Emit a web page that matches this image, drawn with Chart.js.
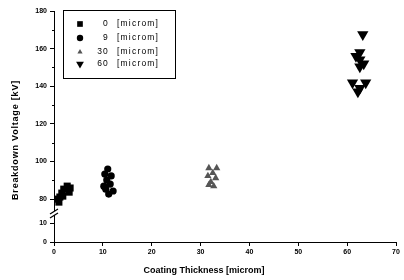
<!DOCTYPE html>
<html>
<head>
<meta charset="utf-8">
<script src="https://cdn.jsdelivr.net/npm/chart.js@4.4.1/dist/chart.umd.min.js"></script>
<style>
  body { margin: 0; background: #fff; }
  canvas { display: block; }
</style>
</head>
<body>
<canvas id="myChart" width="404" height="280"></canvas>
<script>
let seriesNames = ['0 [microm]', '9 [microm]', '30 [microm]', '60 [microm]'];

let thick0 = [1.0, 1.2, 1.6, 2.0, 2.7, 3.3, 3.1, 0.8, 1.8];
let volt0 = [78.4, 81.1, 83.2, 85.3, 86.9, 85.9, 83.7, 80.0, 81.6];

let thick9 = [11.0, 10.4, 11.7, 10.8, 11.5, 10.6, 12.1, 11.2, 10.2];
let volt9 = [96.0, 93.3, 92.3, 90.1, 88.0, 85.3, 84.3, 82.7, 86.9];

let thick30 = [31.7, 33.3, 32.5, 31.5, 33.1, 32.1, 32.7, 31.7];
let volt30 = [96.5, 96.5, 93.9, 92.3, 91.2, 89.1, 86.9, 87.5];

let thick60 = [63.2, 62.6, 61.8, 62.6, 63.4, 62.6, 61.1, 63.8, 62.6, 62.2];
let volt60 = [167.5, 157.9, 156.0, 154.1, 152.0, 150.4, 141.9, 141.9, 139.0, 137.1];

let yTickValues = [0, 10, 80, 100, 120, 140, 160, 180];
let yMinorValues = [90, 110, 130, 150, 170];

let fontFamily = '"Liberation Sans", Arial, sans-serif';

// y axis is broken between 10 and 80, so squeeze that gap
function breakY(v) {
    return v <= 10 ? v : v - 57.2;
}

function makePoints(xs, ys) {
    let pts = [];
    for (let i = 0; i < xs.length; i++) {
        pts.push({ x: xs[i], y: breakY(ys[i]) });
    }
    return pts;
}

let styles = [
    { pointStyle: 'rect', radius: 5, rotation: 0, color: '#000', legendRadius: 4 },
    { pointStyle: 'circle', radius: 3.6, rotation: 0, color: '#000', legendRadius: 3.2 },
    { pointStyle: 'triangle', radius: 4.2, rotation: 0, color: '#555', legendRadius: 3 },
    { pointStyle: 'triangle', radius: 6.5, rotation: 180, color: '#000', legendRadius: 4.5 }
];

let allX = [thick0, thick9, thick30, thick60];
let allY = [volt0, volt9, volt30, volt60];

let datasets = [];
for (let i = 0; i < seriesNames.length; i++) {
    datasets.push({
        label: seriesNames[i],
        data: makePoints(allX[i], allY[i]),
        pointStyle: styles[i].pointStyle,
        pointRadius: styles[i].radius,
        rotation: styles[i].rotation,
        backgroundColor: styles[i].color,
        borderColor: styles[i].color,
        borderWidth: 0
    });
}

// extras: minor ticks, axis break, boxed legend, axis titles
let extrasPlugin = {
    id: 'extras',
    afterDraw(chart) {
        let ctx = chart.ctx;
        let yScale = chart.scales.y;
        let left = chart.chartArea.left;
        ctx.save();
        ctx.strokeStyle = '#000';
        ctx.lineWidth = 1;

        for (let i = 0; i < yMinorValues.length; i++) {
            let py = Math.round(yScale.getPixelForValue(breakY(yMinorValues[i]))) + 0.5;
            ctx.beginPath();
            ctx.moveTo(left - 2, py);
            ctx.lineTo(left, py);
            ctx.stroke();
        }

        // break mark on the y axis
        let yb = 213;
        ctx.fillStyle = '#fff';
        ctx.fillRect(left - 2, yb - 2, 4, 4);
        ctx.lineWidth = 1.3;
        ctx.beginPath();
        ctx.moveTo(left - 4, yb + 1);
        ctx.lineTo(left + 4, yb - 4);
        ctx.moveTo(left - 4, yb + 5);
        ctx.lineTo(left + 4, yb);
        ctx.stroke();

        // legend box
        ctx.lineWidth = 1;
        ctx.strokeRect(63.5, 10.5, 112, 68);
        let rows = [24, 38, 52, 64];
        ctx.font = '8.5px ' + fontFamily;
        ctx.textBaseline = 'middle';
        ctx.letterSpacing = '1.2px';
        for (let i = 0; i < seriesNames.length; i++) {
            let st = styles[i];
            ctx.fillStyle = st.color;
            ctx.strokeStyle = st.color;
            Chart.helpers.drawPoint(ctx, {
                pointStyle: st.pointStyle,
                radius: st.legendRadius,
                rotation: st.rotation,
                borderWidth: 0
            }, 80, rows[i]);
            let parts = seriesNames[i].split(' ');
            ctx.fillStyle = '#000';
            ctx.textAlign = 'right';
            ctx.fillText(parts[0], 109, rows[i]);
            ctx.textAlign = 'left';
            ctx.fillText(parts[1], 117, rows[i]);
        }

        // axis titles
        ctx.fillStyle = '#000';
        ctx.font = 'bold 9px ' + fontFamily;
        ctx.letterSpacing = '0px';
        ctx.textAlign = 'center';
        ctx.fillText('Coating Thickness [microm]', 204, 271);
        ctx.letterSpacing = '0.8px';
        ctx.translate(16, 140);
        ctx.rotate(-Math.PI / 2);
        ctx.fillText('Breakdown Voltage [kV]', 0, 0);
        ctx.restore();
    }
};

let ctx = document.getElementById('myChart').getContext('2d');

new Chart(ctx, {
    type: 'scatter',
    data: { datasets: datasets },
    options: {
        responsive: false,
        animation: false,
        layout: { padding: { top: 11, right: 8, left: 0, bottom: 0 } },
        plugins: {
            legend: { display: false },
            tooltip: { enabled: false }
        },
        scales: {
            x: {
                type: 'linear',
                min: 0,
                max: 70,
                ticks: {
                    stepSize: 10,
                    color: '#000',
                    padding: 2,
                    font: { family: fontFamily, size: 7, weight: 'bold' }
                },
                grid: { drawOnChartArea: false, tickLength: 4, tickColor: '#000' },
                border: { color: '#000', width: 1 },
                afterFit(scale) { scale.height = 38; }
            },
            y: {
                type: 'linear',
                min: 0,
                max: breakY(180),
                afterBuildTicks(scale) {
                    scale.ticks = yTickValues.map(v => ({ value: breakY(v) }));
                },
                ticks: {
                    color: '#000',
                    padding: 3,
                    font: { family: fontFamily, size: 7, weight: 'bold' },
                    callback: function (value, index) {
                        return String(yTickValues[index]);
                    }
                },
                grid: { drawOnChartArea: false, tickLength: 4, tickColor: '#000' },
                border: { color: '#000', width: 1 },
                afterFit(scale) { scale.width = 54; }
            }
        }
    },
    plugins: [extrasPlugin]
});
</script>
</body>
</html>
